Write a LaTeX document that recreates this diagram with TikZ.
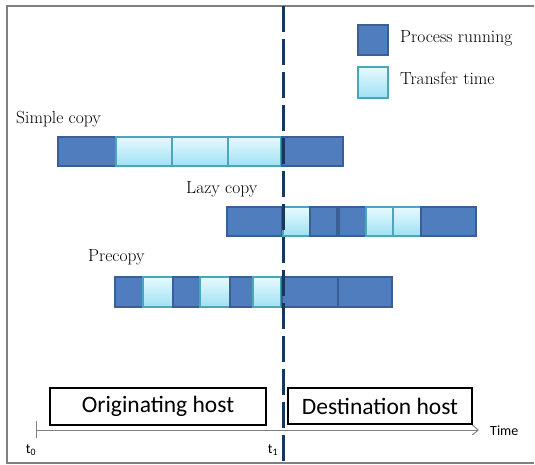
\documentclass[tikz,border=0pt]{standalone}
\usepackage{fontspec}
\newfontfamily\calib{Carlito}
\usetikzlibrary{arrows.meta}
\definecolor{dkfill}{HTML}{4F7DBD}
\definecolor{dkdraw}{HTML}{3A5F94}
\definecolor{ltdraw}{HTML}{4AA6B9}
\definecolor{lttop}{HTML}{E6FAFE}
\definecolor{ltbot}{HTML}{9FE0F3}
\definecolor{navy}{HTML}{17375E}
\definecolor{framegray}{HTML}{808080}
\tikzset{
  dkcell/.style={fill=dkfill, draw=dkdraw, line width=1.2pt},
  ltcell/.style={top color=lttop, bottom color=ltbot, draw=ltdraw, line width=1.2pt},
  rowlabel/.style={anchor=west, inner sep=0pt, font=\fontsize{17.5}{20}\selectfont},
  hostbox/.style={draw=black, line width=2pt, inner sep=0pt, font=\calib\fontsize{23.5}{26}\selectfont},
  smalltxt/.style={inner sep=0pt, font=\calib\fontsize{14}{16}\selectfont},
}
\newcommand\dk[4]{\path[dkcell] (#1,#3) rectangle (#2,#4);}
\newcommand\lt[4]{\path[ltcell] (#1,#3) rectangle (#2,#4);}
\begin{document}
\begin{tikzpicture}[x=1pt,y=-1pt]
\useasboundingbox (0,0) rectangle (535,465);
% frame
\draw[framegray, line width=1.5pt] (534,6) -- (7,6) -- (7,463) -- (534,463);
% legend
\dk{358}{388}{25}{55}
\lt{358}{388}{67}{98}
\node[rowlabel] (lgp) at (400,38) {Process running};
\node[rowlabel] (lgt) at (400,78) {Transfer time};
% simple copy
\node[rowlabel] (ls) at (16,119) {Simple copy};
\dk{58}{116}{137}{166}
\lt{116}{172}{137}{166}
\lt{172}{228}{137}{166}
\lt{228}{281}{137}{166}
\dk{282}{343}{137}{166}
% lazy copy
\node[rowlabel] (ll) at (186,189) {Lazy copy};
\dk{227}{282}{207}{236}
\lt{283}{310}{207}{236}
\dk{310}{337}{207}{236}
\dk{339}{366}{207}{236}
\lt{366}{393}{207}{236}
\lt{393}{421}{207}{236}
\dk{421}{476}{207}{236}
% precopy
\node[rowlabel] (lp) at (88,257) {Precopy};
\dk{115}{143}{277}{307}
\lt{143}{173}{277}{307}
\dk{173}{200}{277}{307}
\lt{200}{230}{277}{307}
\dk{230}{253}{277}{307}
\lt{253}{281}{277}{307}
\dk{282}{338}{277}{307}
\dk{338}{392}{277}{307}
% hosts
\node[hostbox, minimum width=216pt, minimum height=37pt] (orig) at (158,406.5) {Originating host};
\node[hostbox, minimum width=184pt, minimum height=36pt] (dest) at (380,406) {Destination host};
% axis
\coordinate (a0) at (36,430);
\coordinate (a1) at (479,430);
\draw[framegray, line width=0.9pt, -{Straight Barb[length=6pt,width=10pt]}] (a0) -- (a1);
\draw[framegray, line width=0.9pt] (36,421) -- (36,438);
\node[smalltxt, anchor=west] (time) at (490,431) {Time};
\node[smalltxt] (t0) at (31,450) {t\textsubscript{0}};
\node[smalltxt] (t1) at (273,450) {t\textsubscript{1}};
% dashed line
\coordinate (d0) at (283,6);
\coordinate (d1) at (283,463);
\draw[navy, line width=3pt, dash pattern=on 26pt off 7pt] (d0) -- (d1);
\end{tikzpicture}
\end{document}
